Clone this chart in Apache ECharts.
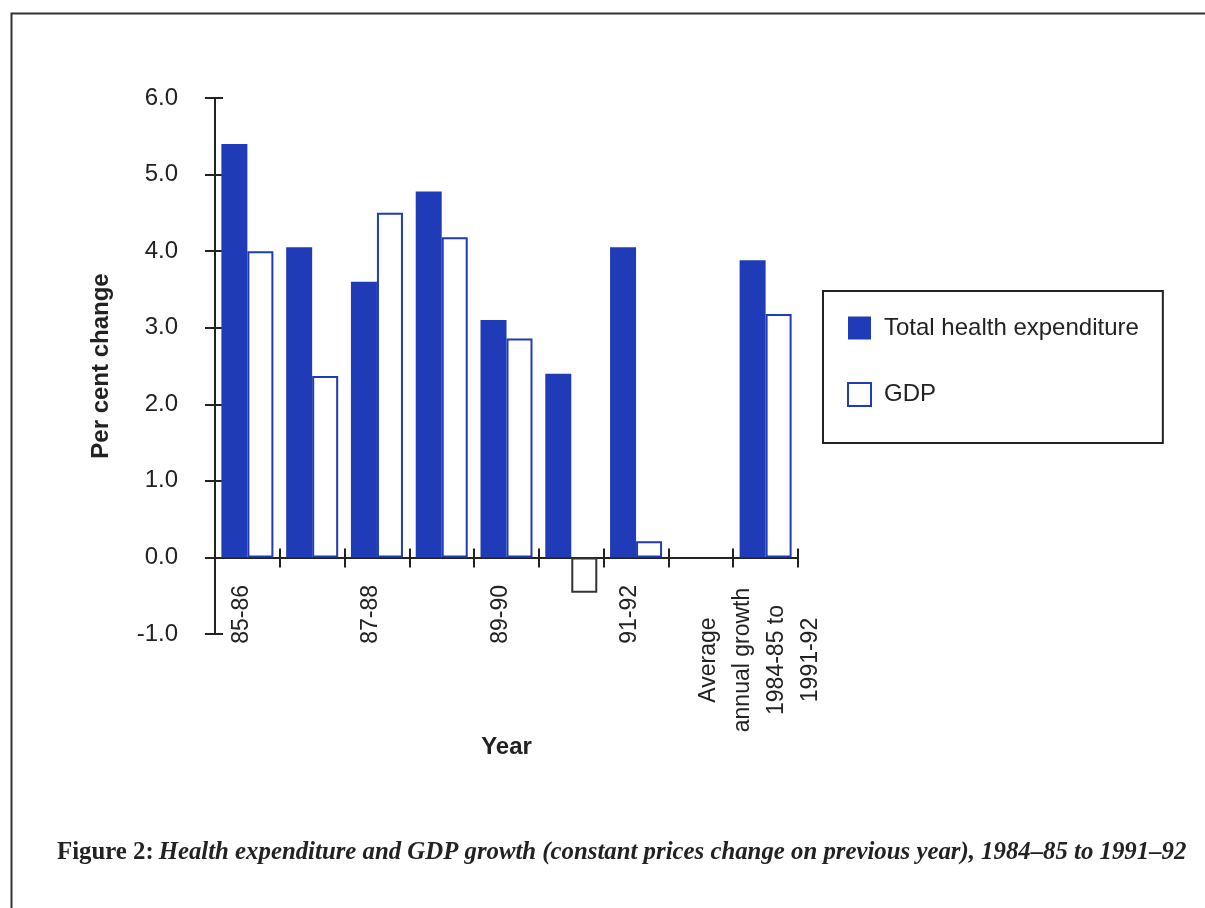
<!DOCTYPE html>
<html>
<head>
<meta charset="utf-8">
<title>Health expenditure and GDP growth</title>
<script src="https://cdn.jsdelivr.net/npm/echarts@6/dist/echarts.min.js"></script>
<style>
  html, body { margin: 0; padding: 0; background: #fff; }
  #chart { width: 1205px; height: 908px; }
</style>
</head>
<body>
<div id="chart"></div>
<script>
// Financial years plus the eight-year average
const categories = ['85-86', '86-87', '87-88', '88-89', '89-90', '90-91', '91-92', '', 'Average annual growth 1984-85 to 1991-92'];
// Only every second year is labelled on the axis
const categoryLabels = ['85-86', '', '87-88', '', '89-90', '', '91-92', '', 'Average\nannual growth\n1984-85 to\n1991-92'];
// Per cent change on previous year, constant prices
const healthExpenditure = [5.4, 4.05, 3.6, 4.78, 3.1, 2.4, 4.05, null, 3.88];
const gdp = [4.0, 2.37, 4.5, 4.18, 2.86, -0.46, 0.21, null, 3.18];
const seriesNames = ['Total health expenditure', 'GDP'];
const yMin = -1, yMax = 6, yStep = 1;

const BLUE = '#1f3bb8';
const INK = '#222222';
const SANS = '"Liberation Sans", Arial, sans-serif';
const SERIF = '"Liberation Serif", "Times New Roman", serif';

const chart = echarts.init(document.getElementById('chart'), null, { renderer: 'canvas' });

function formatCategory(value, index) {
  const text = categoryLabels[index];
  if (!text) return '';
  if (text.indexOf('\n') >= 0) {
    return text.split('\n').map(function (line) { return '{m|' + line + '}'; }).join('\n');
  }
  return text;
}

const option = {
  backgroundColor: '#ffffff',
  animation: false,
  title: {
    left: 57,
    top: 840,
    padding: 0,
    text: '{b|Figure 2:} {i|Health expenditure and GDP growth (constant prices change on previous year), 1984\u201385 to 1991\u201392}',
    textStyle: {
      rich: {
        b: { fontFamily: SERIF, fontWeight: 'bold', fontSize: 24.8, color: INK },
        i: { fontFamily: SERIF, fontStyle: 'italic', fontSize: 24.8, color: INK }
      }
    }
  },
  graphic: [{
    type: 'rect',
    left: 9,
    top: 11,
    shape: { x: 0, y: 0, width: 1400, height: 1100 },
    style: { fill: 'none', stroke: '#333333', lineWidth: 2 },
    silent: true
  }],
  legend: {
    orient: 'vertical',
    left: 823,
    top: 291,
    itemWidth: 23,
    itemHeight: 23,
    itemGap: 42,
    icon: 'rect',
    borderColor: INK,
    borderWidth: 2,
    padding: [25, 24, 36, 24],
    textStyle: { fontFamily: SANS, fontSize: 24, color: INK, padding: [0, 0, 0, 8] },
    data: [
      { name: seriesNames[0], itemStyle: { color: BLUE, borderWidth: 0 } },
      { name: seriesNames[1], itemStyle: { color: '#ffffff', borderColor: BLUE, borderWidth: 2 } }
    ]
  },
  grid: { left: 215, top: 98, width: 583, height: 536, containLabel: false },
  xAxis: [{
    type: 'category',
    position: 'bottom',
    data: categories,
    axisLine: { onZero: true, lineStyle: { color: INK, width: 2 } },
    axisTick: { show: true, interval: 0, alignWithLabel: false, length: 10, lineStyle: { color: INK, width: 2 } },
    axisLabel: {
      interval: 0,
      rotate: 90,
      margin: -49,
      fontFamily: SANS,
      fontSize: 23,
      color: INK,
      padding: [0, 0, 12, 0],
      formatter: formatCategory,
      rich: {
        m: { width: 150, align: 'center', lineHeight: 34, fontFamily: SANS, fontSize: 23, color: INK }
      }
    },
    splitLine: { show: false },
    name: 'Year',
    nameLocation: 'middle',
    nameGap: 101,
    nameMoveOverlap: false,
    nameTextStyle: { fontFamily: SANS, fontWeight: 'bold', fontSize: 24, color: INK }
  }, {
    type: 'category',
    position: 'bottom',
    data: categories,
    axisLine: { show: false, onZero: true },
    axisTick: { show: true, inside: true, interval: 0, alignWithLabel: false, length: 9, lineStyle: { color: INK, width: 2 } },
    axisLabel: { show: false },
    splitLine: { show: false }
  }],
  yAxis: [{
    type: 'value',
    position: 'left',
    min: yMin,
    max: yMax,
    interval: yStep,
    axisLine: { show: true, onZero: false, lineStyle: { color: INK, width: 2 } },
    axisTick: { show: true, length: 10, lineStyle: { color: INK, width: 2 } },
    axisLabel: {
      margin: 37,
      fontFamily: SANS,
      fontSize: 24,
      color: INK,
      formatter: function (v) { return v.toFixed(1); }
    },
    splitLine: { show: false },
    name: 'Per cent change',
    nameLocation: 'middle',
    nameGap: 102,
    nameMoveOverlap: false,
    nameTextStyle: { fontFamily: SANS, fontWeight: 'bold', fontSize: 24, color: INK }
  }, {
    type: 'value',
    position: 'left',
    min: yMin,
    max: yMax,
    interval: yStep,
    axisLine: { show: false, onZero: false },
    axisTick: { show: true, inside: true, length: 8, lineStyle: { color: INK, width: 2 } },
    axisLabel: { show: false },
    splitLine: { show: false }
  }],
  series: [{
    name: seriesNames[0],
    type: 'bar',
    xAxisIndex: 0,
    yAxisIndex: 0,
    barWidth: 26,
    barGap: '0%',
    itemStyle: { color: BLUE },
    data: healthExpenditure,
    z: 3
  }, {
    name: seriesNames[1],
    type: 'bar',
    xAxisIndex: 0,
    yAxisIndex: 0,
    barWidth: 26,
    barGap: '0%',
    itemStyle: { color: '#ffffff', borderColor: BLUE, borderWidth: 2 },
    // the one decline is outlined in black
    data: gdp.map(function (v) {
      return (v !== null && v < 0) ? { value: v, itemStyle: { borderColor: '#333333' } } : v;
    }),
    z: 3
  }]
};

chart.setOption(option);
</script>
</body>
</html>
